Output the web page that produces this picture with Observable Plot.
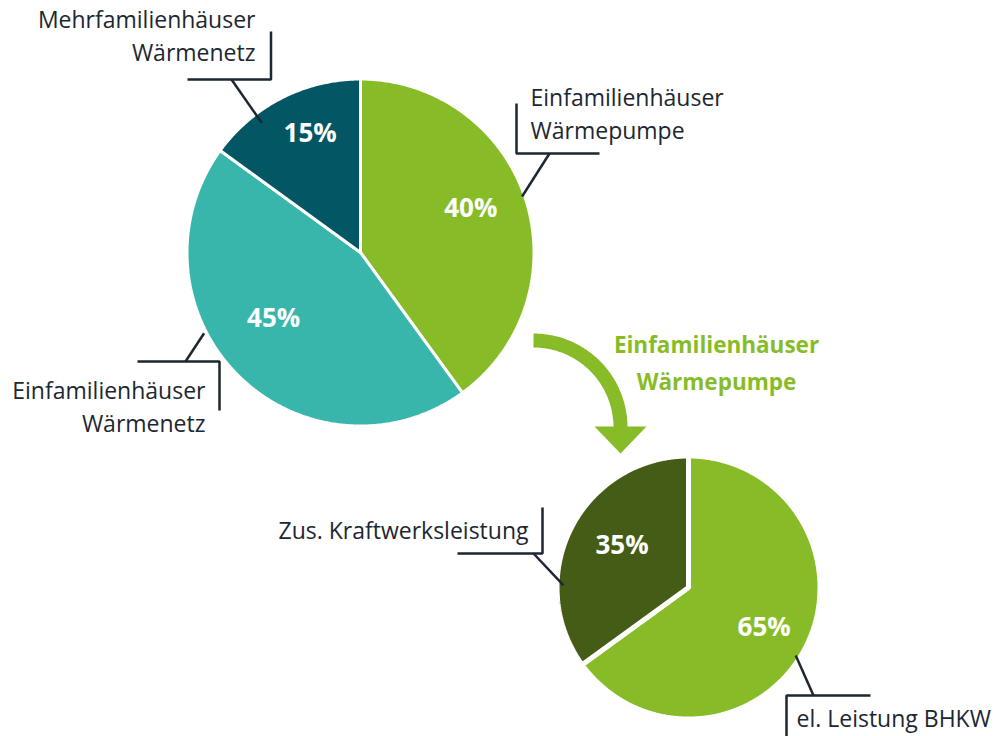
<!DOCTYPE html>
<html><head><meta charset="utf-8">
<script src="https://cdn.jsdelivr.net/npm/d3@7"></script>
<script src="https://cdn.jsdelivr.net/npm/@observablehq/plot@0.6"></script>
<style>body{margin:0;background:#fff} svg{display:block}</style>
</head><body><div id="chart"></div>
<script>
// ---- data ----
const pie1Labels = ["Einfamilienhäuser\nWärmepumpe", "Einfamilienhäuser\nWärmenetz", "Mehrfamilienhäuser\nWärmenetz"];
const pie1Values = [40, 45, 15];
const pie2Labels = ["el. Leistung BHKW", "Zus. Kraftwerksleistung"];
const pie2Values = [65, 35];
const detailTitle = "Einfamilienhäuser\nWärmepumpe";

// ---- styles ----
const pie1Colors = ["#87bc28", "#39b6ab", "#035664"];
const pie2Colors = ["#87bc28", "#445c15"];
const textColor = "#1d2731";
const arrowColor = "#87bc28";
const FONT = "'Open Sans', sans-serif";

// ---- layout (pixel space) ----
const W = 1003, H = 736;
const pies = [
  {labels: pie1Labels, values: pie1Values, colors: pie1Colors, cx: 360, cy: 252, r: 172, gap: 3,
   pctPos: [[68.3, 0.69], [232.8, 0.634], [337, 0.75]],
   leaders: [
     {angle: 70.9, rad: 171, knee: [549, 153], elbow: [[599, 153], [516, 153], [516, 103]], text: [530, 82, "start"]},
     {angle: 242.7, rad: 176, knee: [185, 361], elbow: [[137, 361], [219, 361], [219, 410]], text: [205, 375.5, "end"]},
     {angle: 322.7, rad: 163, knee: [231, 79], elbow: [[187, 79], [270.5, 79], [270.5, 31]], text: [255, 4, "end"]}
   ]},
  {labels: pie2Labels, values: pie2Values, colors: pie2Colors, cx: 688, cy: 587, r: 129, gap: 5,
   pctPos: [[117.9, 0.664], [302.4, 0.61]],
   leaders: [
     {angle: 122.4, rad: 127, knee: [813, 695], elbow: [[870, 695], [786, 695], [786, 740]], text: [796, 703, "start"]},
     {angle: 271, rad: 125, knee: [533, 553], elbow: [[457, 553], [542, 553], [542, 507]], text: [528, 515, "end"]}
   ]}
];
const arrow = {cx: 533, cy: 427, r: 87, width: 14, head: [[594, 426], [646, 426], [620, 453]]};
const title = {x: 716, y: 325.5};

const rad = d => d * Math.PI / 180;
const pt = (p, a, rr) => ({x: p.cx + rr * Math.sin(a), y: p.cy - rr * Math.cos(a)});

const marks = [];
for (const p of pies) {
  const arcs = d3.pie().sort(null)(p.values);
  arcs.forEach((a, i) => {
    const R = p.r + p.gap / 2;
    const n = Math.max(2, Math.ceil((a.endAngle - a.startAngle) / rad(0.5)));
    const poly = [{x: p.cx, y: p.cy}];
    for (let k = 0; k <= n; k++) poly.push(pt(p, a.startAngle + (a.endAngle - a.startAngle) * k / n, R));
    marks.push(Plot.line(poly, {x: "x", y: "y", fill: p.colors[i], stroke: "white", strokeWidth: p.gap,
      strokeLinejoin: "miter", curve: "linear-closed"}));
  });
  // percent labels
  const pct = p.values.map((v, i) => ({...pt(p, rad(p.pctPos[i][0]), p.r * p.pctPos[i][1]), t: v + "%"}));
  marks.push(Plot.text(pct, {x: "x", y: "y", text: "t", fill: "white", fontSize: 26, fontWeight: 700, fontFamily: FONT}));
  // leaders and category labels
  p.leaders.forEach((L, i) => {
    const s = pt(p, rad(L.angle), L.rad);
    marks.push(Plot.line([s, {x: L.knee[0], y: L.knee[1]}], {x: "x", y: "y", stroke: textColor, strokeWidth: 2.5, strokeLinecap: "butt"}));
    marks.push(Plot.line(L.elbow.map(([x, y]) => ({x, y})), {x: "x", y: "y", stroke: textColor, strokeWidth: 2.5,
      strokeLinecap: "butt", strokeLinejoin: "miter"}));
    marks.push(Plot.text([{x: L.text[0], y: L.text[1], t: p.labels[i]}], {x: "x", y: "y", text: "t",
      textAnchor: L.text[2], lineAnchor: "top", lineHeight: 1.43, fontSize: 23, fill: textColor, fontFamily: FONT}));
  });
}
// curved arrow
const arcPts = d3.range(0, 91, 1).map(t => ({x: arrow.cx + arrow.r * Math.sin(rad(t)), y: arrow.cy - arrow.r * Math.cos(rad(t))}));
marks.push(Plot.line(arcPts, {x: "x", y: "y", stroke: arrowColor, strokeWidth: arrow.width, strokeLinecap: "butt"}));
marks.push(Plot.line(arrow.head.map(([x, y]) => ({x, y})), {x: "x", y: "y", fill: arrowColor, stroke: "none", curve: "linear-closed"}));
marks.push(Plot.text([{x: title.x, y: title.y, t: detailTitle}], {x: "x", y: "y", text: "t", textAnchor: "middle",
  lineAnchor: "top", lineHeight: 1.66, fontSize: 22.5, fontWeight: 700, fill: arrowColor, fontFamily: FONT}));

const chart = Plot.plot({
  width: W, height: H, margin: 0,
  x: {domain: [0, W], range: [0, W], axis: null},
  y: {domain: [0, H], range: [0, H], axis: null},
  style: {background: "white", fontFamily: FONT},
  marks
});
document.getElementById("chart").append(chart);
</script>
</body></html>
